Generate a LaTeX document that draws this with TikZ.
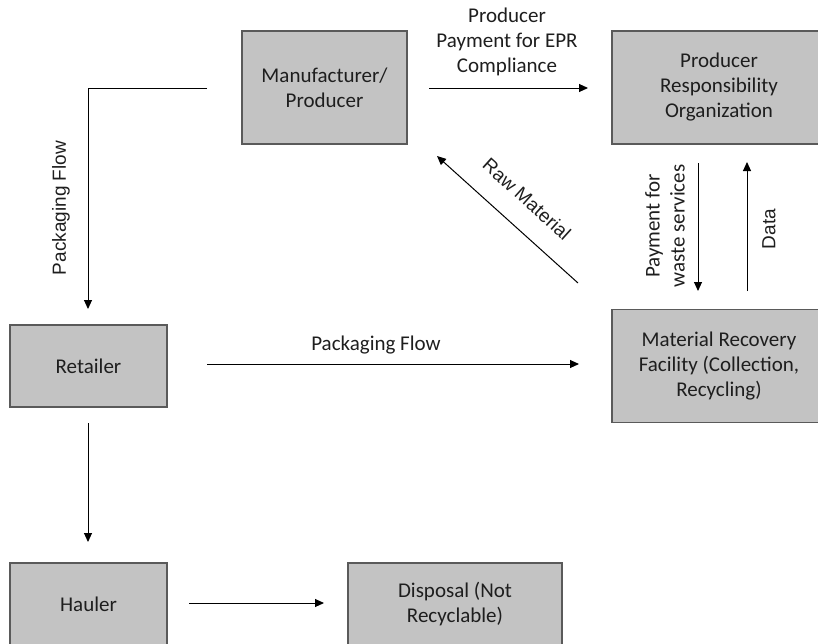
\documentclass[tikz,border=0pt]{standalone}
\usepackage{fontspec}
\setmainfont{Carlito}
\newfontfamily\arialfont{Liberation Sans}
\usetikzlibrary{arrows.meta}
\definecolor{boxfill}{RGB}{195,195,195}
\definecolor{boxline}{RGB}{90,90,90}
\definecolor{ink}{RGB}{30,30,30}
\begin{document}
\begin{tikzpicture}[x=1pt,y=-1pt,
  box/.style={draw=boxline,fill=boxfill,line width=1.3pt,inner sep=0pt,
    align=center,text=ink,font=\fontsize{21}{25}\selectfont},
  arr/.style={draw=black,line width=1pt,-{Triangle[length=9pt,width=8pt]}},
  lbl/.style={text=ink,align=center,inner sep=0pt,font=\fontsize{21}{25}\selectfont},
  albl/.style={text=ink,align=center,inner sep=0pt,font=\arialfont\fontsize{19}{23}\selectfont}]
\useasboundingbox (0,0) rectangle (818,643);
\clip (0,0) rectangle (818,643);

% boxes
\node[box,minimum width=165pt,minimum height=113pt] (mfr) at (324.5,87.5) {Manufacturer/\\Producer};
\node[box,minimum width=214pt,minimum height=113pt] (pro) at (719,87.5) {Producer\\Responsibility\\Organization};
\node[box,minimum width=157pt,minimum height=82pt] (ret) at (88.5,366) {Retailer};
\node[box,minimum width=214pt,minimum height=113pt] (mrf) at (719,366) {Material Recovery\\Facility (Collection,\\Recycling)};
\node[box,minimum width=157pt,minimum height=82pt] (hau) at (88.5,604) {Hauler};
\node[box,minimum width=214pt,minimum height=82pt] (dis) at (455,604) {Disposal (Not\\Recyclable)};

% connector end points
\coordinate (pkS) at (207,88);
\coordinate (pkC) at (88,88);
\coordinate (pkE) at (88,309);
\coordinate (eprS) at (429,88);
\coordinate (eprE) at (588,88);
\coordinate (rawS) at (578,283);
\coordinate (rawE) at (437,156);
\coordinate (payS) at (698,163);
\coordinate (payE) at (698,291);
\coordinate (datS) at (747,291);
\coordinate (datE) at (747,162);
\coordinate (rmS) at (207,364);
\coordinate (rmE) at (579,364);
\coordinate (rhS) at (88,423);
\coordinate (rhE) at (88,542);
\coordinate (hdS) at (189,603);
\coordinate (hdE) at (324,603);

% connectors
\draw[arr] (pkS) -- (pkC) -- (pkE);
\draw[arr] (eprS) -- (eprE);
\draw[arr] (rawS) -- (rawE);
\draw[arr] (payS) -- (payE);
\draw[arr] (datS) -- (datE);
\draw[arr] (rmS) -- (rmE);
\draw[arr] (rhS) -- (rhE);
\draw[arr] (hdS) -- (hdE);

% labels
\node[albl,rotate=90] (pkL) at (61,208) {Packaging Flow};
\node[lbl] (eprL) at (507,42) {Producer\\Payment for EPR\\Compliance};
\node[albl,rotate=-42] (rawL) at (527,199) {Raw Material};
\node[lbl,rotate=90] (payL) at (665,226) {Payment for\\waste services};
\node[albl,rotate=90] (datL) at (769,229) {Data};
\node[lbl] (rmL) at (376,345) {Packaging Flow};
\end{tikzpicture}
\end{document}
